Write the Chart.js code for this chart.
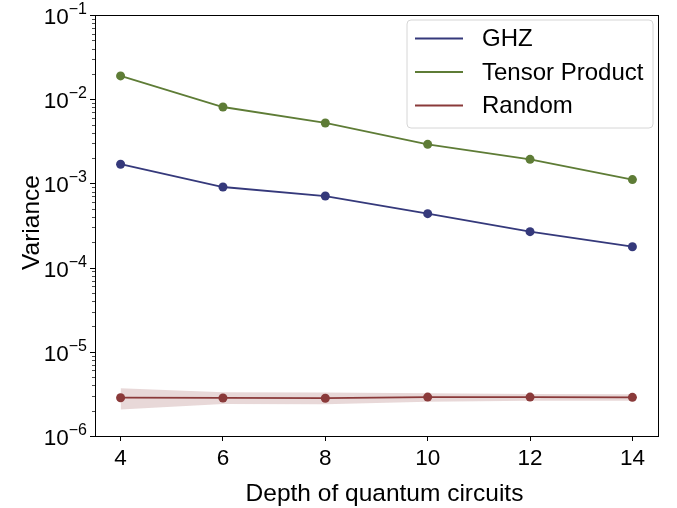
<!DOCTYPE html>
<html>
<head>
<meta charset="utf-8">
<script src="https://cdn.jsdelivr.net/npm/chart.js@4.4.1/dist/chart.umd.min.js"></script>
<style>
  html, body { margin: 0; padding: 0; background: #ffffff; }
  #wrap { width: 677px; height: 508px; }
</style>
</head>
<body>
<div id="wrap"><canvas id="c" width="677" height="508"></canvas></div>
<script>
// ---- data ----
const depth = [4, 6, 8, 10, 12, 14];
const ghz = [1.69e-3, 9.06e-4, 7.08e-4, 4.37e-4, 2.67e-4, 1.77e-4];
const tensorProduct = [1.89e-2, 8.08e-3, 5.22e-3, 2.91e-3, 1.93e-3, 1.11e-3];
const randomState = [2.85e-6, 2.83e-6, 2.81e-6, 2.90e-6, 2.90e-6, 2.88e-6];
const randomUpper = [3.68e-6, 3.30e-6, 3.28e-6, 3.21e-6, 3.15e-6, 3.13e-6];
const randomLower = [2.07e-6, 2.40e-6, 2.39e-6, 2.55e-6, 2.63e-6, 2.63e-6];
const xTickValues = [4, 6, 8, 10, 12, 14];
const yTickExponents = [-6, -5, -4, -3, -2, -1];
const seriesLabels = ['GHZ', 'Tensor Product', 'Random'];
const xTitle = 'Depth of quantum circuits';
const yTitle = 'Variance';

const COLORS = { ghz: '#35397b', tensor: '#5e7c36', random: '#8a3a3a' };
const FONT = "'Liberation Sans', Arial, Helvetica, sans-serif";

const pts = (arr) => depth.map((d, i) => ({ x: d, y: arr[i] }));

function lineDs(label, arr, color, order) {
  return {
    label, data: pts(arr), borderColor: color, backgroundColor: color,
    borderWidth: 1.8, pointRadius: 4.5, pointHoverRadius: 4.5,
    pointBackgroundColor: color, pointBorderWidth: 0, tension: 0, fill: false, order
  };
}

const decorPlugin = {
  id: 'decor',
  afterDraw(chart) {
    const ctx = chart.ctx;
    const a = chart.chartArea;
    const ys = chart.scales.y;
    ctx.save();
    // y ticks (major and minor), outward
    ctx.strokeStyle = '#000';
    for (let e = -6; e <= -1; e++) {
      for (let m = 1; m <= 9; m++) {
        const v = m * Math.pow(10, e);
        if (v > 0.1 * 1.0001) break;
        const py = Math.round(ys.getPixelForValue(v)) + 0.5;
        const major = (m === 1);
        ctx.lineWidth = major ? 1 : 0.7;
        ctx.beginPath();
        ctx.moveTo(a.left - (major ? 5 : 3), py);
        ctx.lineTo(a.left, py);
        ctx.stroke();
      }
    }
    // y tick labels 10^e
    ctx.fillStyle = '#000';
    ctx.textBaseline = 'alphabetic';
    ctx.textAlign = 'left';
    yTickExponents.forEach(e => {
      const py = ys.getPixelForValue(Math.pow(10, e));
      const base = '10';
      const sup = '\u2212' + Math.abs(e);
      ctx.font = `22.5px ${FONT}`;
      const w1 = ctx.measureText(base).width;
      ctx.font = `16px ${FONT}`;
      const w2 = ctx.measureText(sup).width;
      const right = a.left - 8;
      const x0 = right - w1 - w2;
      ctx.font = `22.5px ${FONT}`;
      ctx.fillText(base, x0, py + 9);
      ctx.font = `16px ${FONT}`;
      ctx.fillText(sup, x0 + w1, py - 1);
    });
    // frame
    ctx.strokeStyle = '#000';
    ctx.lineWidth = 1;
    ctx.strokeRect(Math.round(a.left) + 0.5, Math.round(a.top) + 0.5,
      Math.round(a.right - a.left), Math.round(a.bottom - a.top));
    // axis titles
    ctx.font = `24.5px ${FONT}`;
    ctx.textAlign = 'center';
    ctx.textBaseline = 'middle';
    ctx.fillText(xTitle, (a.left + a.right) / 2 + 8, 494);
    ctx.save();
    ctx.translate(32, (a.top + a.bottom) / 2 - 3);
    ctx.rotate(-Math.PI / 2);
    ctx.fillText(yTitle, 0, 0);
    ctx.restore();
    // legend
    const lx = 407, ly = 20, lw = 246, lh = 108, r = 4;
    ctx.beginPath();
    ctx.moveTo(lx + r, ly);
    ctx.arcTo(lx + lw, ly, lx + lw, ly + lh, r);
    ctx.arcTo(lx + lw, ly + lh, lx, ly + lh, r);
    ctx.arcTo(lx, ly + lh, lx, ly, r);
    ctx.arcTo(lx, ly, lx + lw, ly, r);
    ctx.closePath();
    ctx.fillStyle = 'rgba(255,255,255,0.8)';
    ctx.fill();
    ctx.strokeStyle = '#d6d6d6';
    ctx.lineWidth = 1;
    ctx.stroke();
    const rows = [38.5, 72, 105.5];
    const cols = [COLORS.ghz, COLORS.tensor, COLORS.random];
    ctx.textAlign = 'left';
    ctx.textBaseline = 'middle';
    ctx.font = `24px ${FONT}`;
    seriesLabels.forEach((lab, i) => {
      ctx.strokeStyle = cols[i];
      ctx.lineWidth = 1.8;
      ctx.beginPath();
      ctx.moveTo(415, rows[i]);
      ctx.lineTo(463, rows[i]);
      ctx.stroke();
      ctx.fillStyle = '#000';
      ctx.fillText(lab, 482, rows[i] + 1);
    });
    ctx.restore();
  }
};

new Chart(document.getElementById('c'), {
  type: 'line',
  data: {
    datasets: [
      {
        label: 'Random band upper', data: pts(randomUpper), borderWidth: 0, pointRadius: 0,
        borderColor: 'rgba(0,0,0,0)', backgroundColor: 'rgba(138,58,58,0.2)', fill: '+1', order: 10, tension: 0
      },
      {
        label: 'Random band lower', data: pts(randomLower), borderWidth: 0, pointRadius: 0,
        borderColor: 'rgba(0,0,0,0)', backgroundColor: 'rgba(0,0,0,0)', fill: false, order: 9, tension: 0
      },
      lineDs(seriesLabels[0], ghz, COLORS.ghz, 3),
      lineDs(seriesLabels[1], tensorProduct, COLORS.tensor, 2),
      lineDs(seriesLabels[2], randomState, COLORS.random, 1)
    ]
  },
  options: {
    responsive: false,
    devicePixelRatio: 1,
    animation: false,
    layout: { padding: { top: 15, right: 19, left: 0, bottom: 0 } },
    plugins: { legend: { display: false }, tooltip: { enabled: false } },
    scales: {
      x: {
        type: 'linear', min: 3.5, max: 14.5,
        afterBuildTicks: (s) => { s.ticks = xTickValues.map(v => ({ value: v })); },
        afterFit: (s) => { s.height = 72; },
        ticks: { font: { size: 22.5, family: FONT }, color: '#000', padding: 4, maxRotation: 0, autoSkip: false },
        grid: { display: true, drawOnChartArea: false, drawTicks: true, tickLength: 5, tickColor: '#000', tickWidth: 1 },
        border: { display: false }
      },
      y: {
        type: 'logarithmic', min: 1e-6, max: 1e-1,
        afterFit: (s) => { s.width = 95; },
        ticks: { display: false },
        grid: { display: false },
        border: { display: false }
      }
    }
  },
  plugins: [decorPlugin]
});
</script>
</body>
</html>
